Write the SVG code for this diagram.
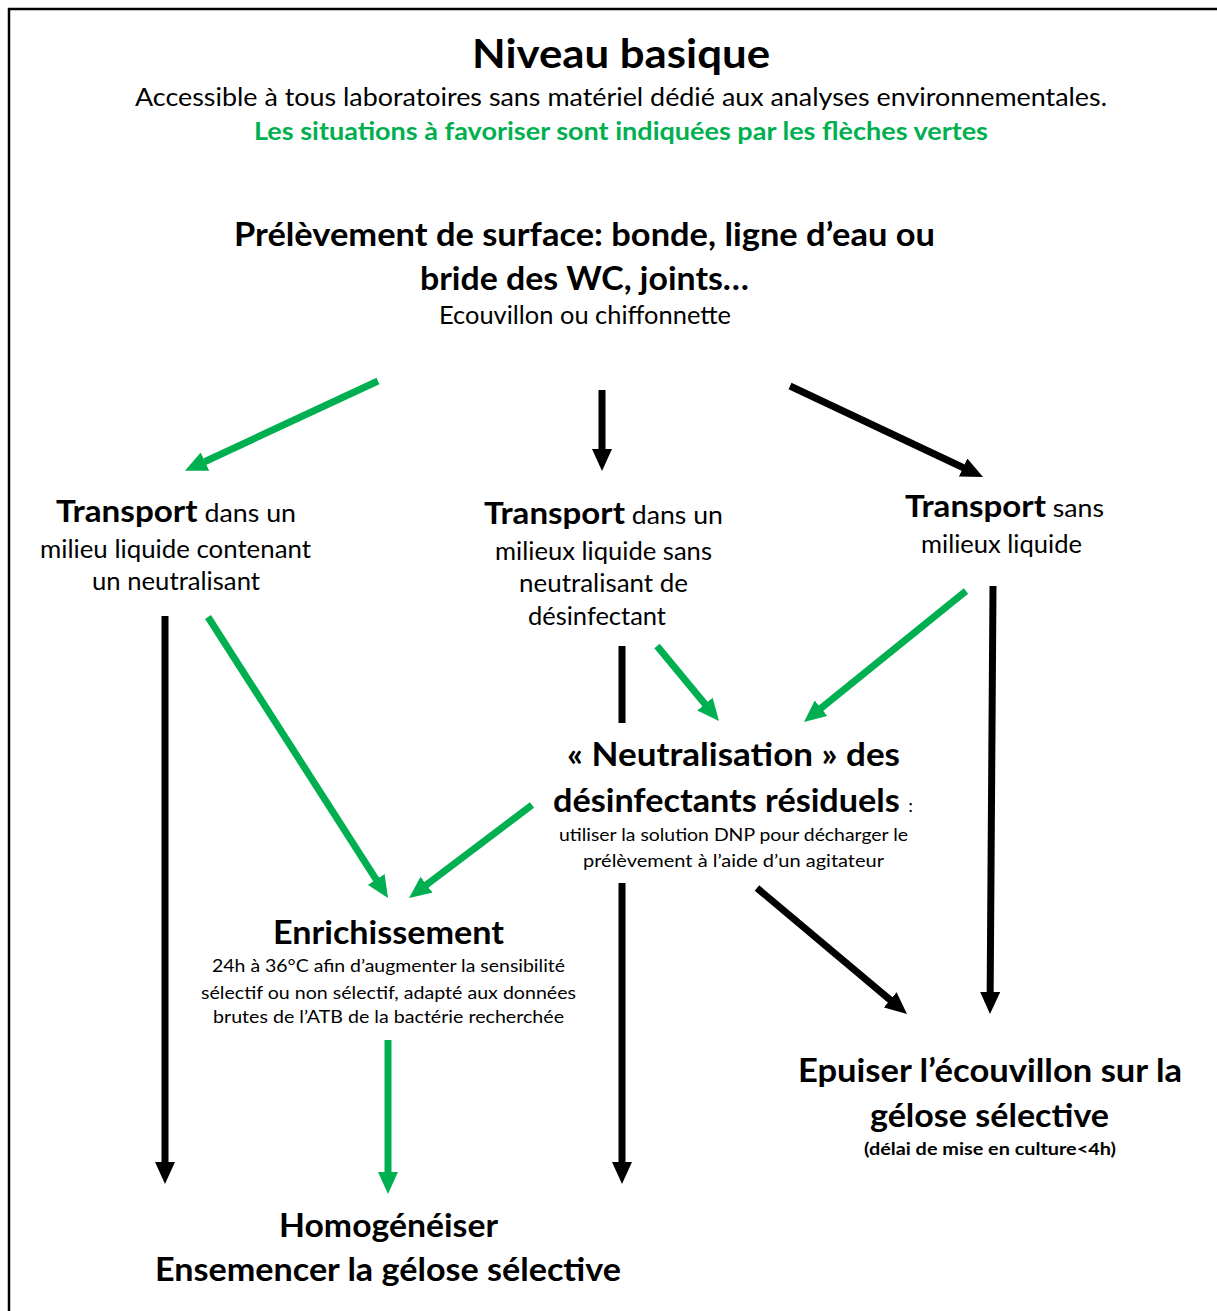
<svg xmlns="http://www.w3.org/2000/svg" width="1217" height="1311" viewBox="0 0 1217 1311">
<style>
text{font-family:Lato,"Open Sans","Liberation Sans",sans-serif;fill:#000;text-anchor:middle}
.b{font-weight:bold}
.g{fill:#00B050}
.h1{font-size:40px;font-weight:bold}
.h2{font-size:32px;font-weight:bold}
.t{font-size:25px}
.s{font-size:18px}
.lk{stroke:#000;stroke-width:7;fill:none}
.lg{stroke:#00B050;stroke-width:7;fill:none}
</style>
<defs>
<marker id="ak" viewBox="0 0 22 20" refX="1" refY="10" markerWidth="22" markerHeight="20" markerUnits="userSpaceOnUse" orient="auto"><path d="M0,0L22,10L0,20z" fill="#000"/></marker>
<marker id="ag" viewBox="0 0 22 20" refX="1" refY="10" markerWidth="22" markerHeight="20" markerUnits="userSpaceOnUse" orient="auto"><path d="M0,0L22,10L0,20z" fill="#00B050"/></marker>
</defs>
<rect width="1217" height="1311" fill="#fff"/>
<path d="M9,1311V9H1217" fill="none" stroke="#000" stroke-width="2.5"/>
<g id="header">
<text class="h1" x="621" y="68" textLength="298" lengthAdjust="spacingAndGlyphs">Niveau basique</text>
<text class="t" x="621" y="106" textLength="972" lengthAdjust="spacingAndGlyphs">Accessible à tous laboratoires sans matériel dédié aux analyses environnementales.</text>
<text class="t b g" x="621" y="140" textLength="734" lengthAdjust="spacingAndGlyphs">Les situations à favoriser sont indiquées par les flèches vertes</text>
</g>
<g id="prelevement">
<text class="h2" x="584.5" y="246" textLength="701" lengthAdjust="spacingAndGlyphs">Prélèvement de surface: bonde, ligne d’eau ou</text>
<text class="h2" x="584.5" y="290" textLength="329" lengthAdjust="spacingAndGlyphs">bride des WC, joints…</text>
<text class="t" x="585" y="324" textLength="292" lengthAdjust="spacingAndGlyphs">Ecouvillon ou chiffonnette</text>
</g>
<g id="transport-neutralisant">
<text class="t" x="176" y="522" textLength="240" lengthAdjust="spacingAndGlyphs"><tspan class="b" font-size="31">Transport</tspan> dans un</text>
<text class="t" x="175.5" y="558" textLength="271" lengthAdjust="spacingAndGlyphs">milieu liquide contenant</text>
<text class="t" x="176" y="590" textLength="168" lengthAdjust="spacingAndGlyphs">un neutralisant</text>
</g>
<g id="transport-sans-neutralisant">
<text class="t" x="603.5" y="524" textLength="239" lengthAdjust="spacingAndGlyphs"><tspan class="b" font-size="31">Transport</tspan> dans un</text>
<text class="t" x="603.5" y="560" textLength="217" lengthAdjust="spacingAndGlyphs">milieux liquide sans</text>
<text class="t" x="603.5" y="592" textLength="169" lengthAdjust="spacingAndGlyphs">neutralisant de</text>
<text class="t" x="597" y="625" textLength="138" lengthAdjust="spacingAndGlyphs">désinfectant</text>
</g>
<g id="transport-sans-liquide">
<text class="t" x="1004.5" y="517" textLength="199" lengthAdjust="spacingAndGlyphs"><tspan class="b" font-size="31">Transport</tspan> sans</text>
<text class="t" x="1001.5" y="553" textLength="161" lengthAdjust="spacingAndGlyphs">milieux liquide</text>
</g>
<g id="neutralisation">
<text class="h2" x="733.5" y="766" textLength="333" lengthAdjust="spacingAndGlyphs">« Neutralisation » des</text>
<text class="h2" x="733" y="812" textLength="360" lengthAdjust="spacingAndGlyphs">désinfectants résiduels <tspan font-size="18" font-weight="normal">:</tspan></text>
<text class="s" x="733.5" y="841" textLength="349" lengthAdjust="spacingAndGlyphs">utiliser la solution DNP pour décharger le</text>
<text class="s" x="733.5" y="867" textLength="301" lengthAdjust="spacingAndGlyphs">prélèvement à l’aide d’un agitateur</text>
</g>
<g id="enrichissement">
<text class="h2" x="388.5" y="944" textLength="231" lengthAdjust="spacingAndGlyphs">Enrichissement</text>
<text class="s" x="388.5" y="972" textLength="353" lengthAdjust="spacingAndGlyphs">24h à 36°C afin d’augmenter la sensibilité</text>
<text class="s" x="388.5" y="999" textLength="375" lengthAdjust="spacingAndGlyphs">sélectif ou non sélectif, adapté aux données</text>
<text class="s" x="388.5" y="1023" textLength="351" lengthAdjust="spacingAndGlyphs">brutes de l’ATB de la bactérie recherchée</text>
</g>
<g id="epuiser">
<text class="h2" x="990" y="1082" textLength="384" lengthAdjust="spacingAndGlyphs">Epuiser l’écouvillon sur la</text>
<text class="h2" x="989.5" y="1127" textLength="239" lengthAdjust="spacingAndGlyphs">gélose sélective</text>
<text class="b" font-size="17" x="990" y="1155" textLength="252" lengthAdjust="spacingAndGlyphs">(délai de mise en culture&lt;4h)</text>
</g>
<g id="ensemencer">
<text class="h2" x="388.5" y="1237" textLength="219" lengthAdjust="spacingAndGlyphs">Homogénéiser</text>
<text class="h2" x="388" y="1281" textLength="466" lengthAdjust="spacingAndGlyphs">Ensemencer la gélose sélective</text>
</g>
<g id="connectors">
<line class="lg" x1="378" y1="381" x2="204" y2="462" marker-end="url(#ag)"/>
<line class="lk" x1="602" y1="390" x2="602" y2="450" marker-end="url(#ak)"/>
<line class="lk" x1="790" y1="386" x2="964" y2="468" marker-end="url(#ak)"/>
<line class="lk" x1="165" y1="616" x2="165" y2="1163" marker-end="url(#ak)"/>
<line class="lg" x1="208" y1="617" x2="376.7" y2="880.3" marker-end="url(#ag)"/>
<line class="lk" x1="622" y1="646" x2="622" y2="723"/>
<line class="lk" x1="622" y1="883" x2="622" y2="1163" marker-end="url(#ak)"/>
<line class="lg" x1="657" y1="646" x2="705.6" y2="704.8" marker-end="url(#ag)"/>
<line class="lg" x1="966" y1="591" x2="820.3" y2="708.8" marker-end="url(#ag)"/>
<line class="lk" x1="993" y1="586" x2="990.15" y2="993" marker-end="url(#ak)"/>
<line class="lg" x1="532" y1="805" x2="425.8" y2="885.3" marker-end="url(#ag)"/>
<line class="lk" x1="757" y1="888" x2="890.9" y2="1000.5" marker-end="url(#ak)"/>
<line class="lg" x1="388" y1="1040" x2="388" y2="1173" marker-end="url(#ag)"/>
</g>
</svg>
